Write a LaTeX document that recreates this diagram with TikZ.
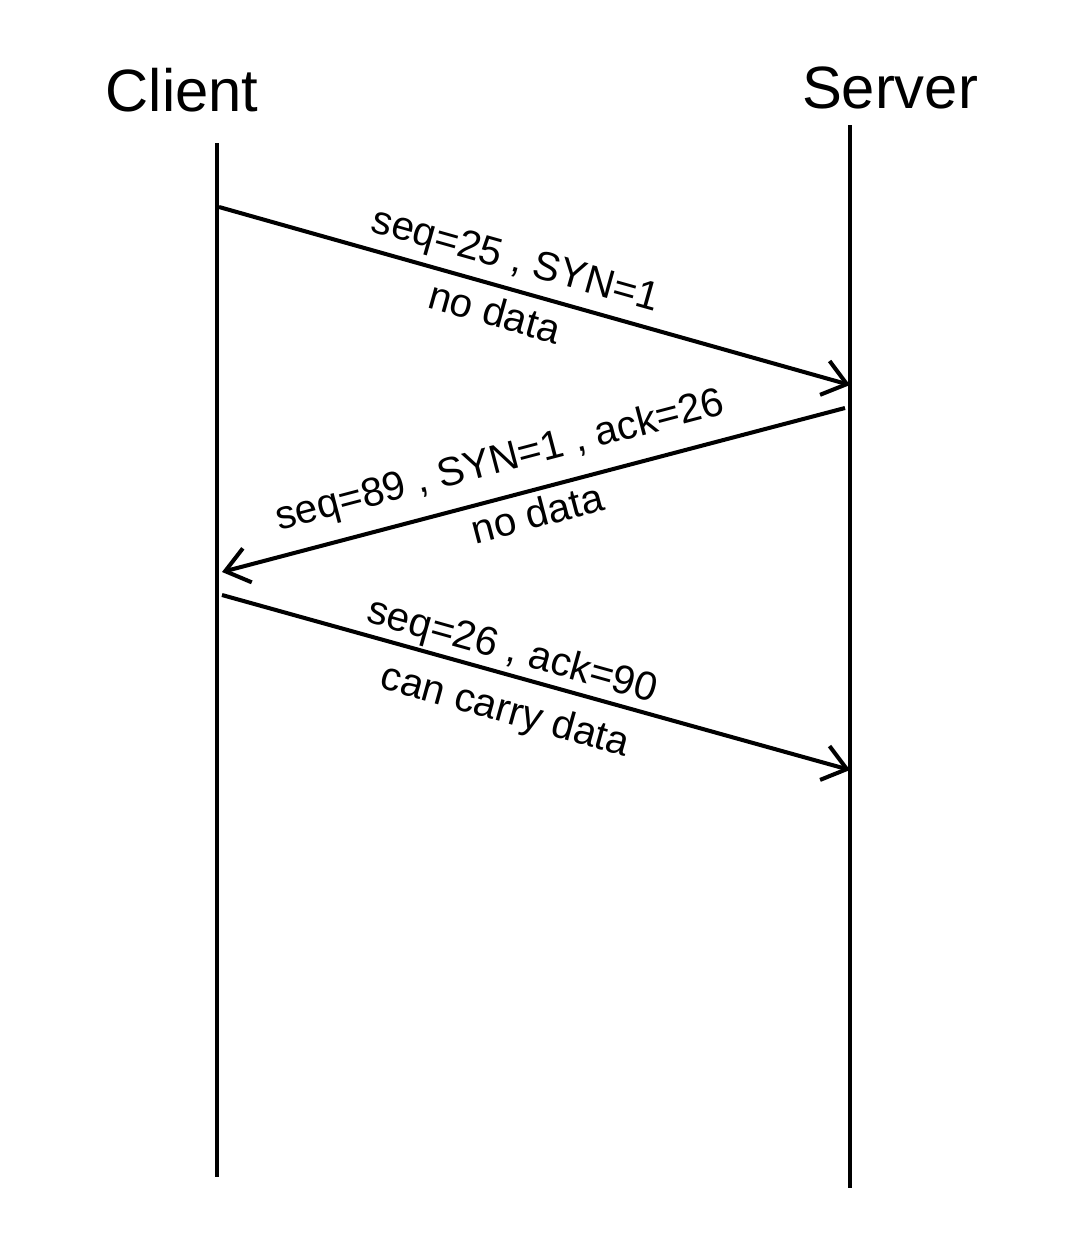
\documentclass[tikz,border=0pt]{standalone}
\usepackage{fontspec}
\setmainfont{Liberation Sans}
\usetikzlibrary{arrows.meta}
\begin{document}
\begin{tikzpicture}[x=0.02cm,y=-0.02cm,
  life/.style={line width=2.3pt},
  msg/.style={line width=2.3pt,-{Straight Barb[length=13pt,width=20pt,line width=2.3pt]}},
  title/.style={font=\fontsize{34}{40}\selectfont},
  lbl/.style={font=\fontsize{23}{27}\selectfont,inner sep=0pt}]
\useasboundingbox (0,0) rectangle (1073,1254);
\fill[white] (0,0) rectangle (1073,1254);
\node[title] (client) at (182,90) {Client};
\node[title] (server) at (890,88) {Server};
\coordinate (ct) at (217,143);
\coordinate (cb) at (217,1177);
\coordinate (st) at (850,125);
\coordinate (sb) at (850,1188);
\draw[life] (ct) -- (cb);
\draw[life] (st) -- (sb);
\coordinate (a1s) at (219,207);
\coordinate (a1e) at (850,385);
\coordinate (a2s) at (845,408);
\coordinate (a2e) at (222,572);
\coordinate (a3s) at (222,595);
\coordinate (a3e) at (850,770);
\draw[msg] (a1s) -- (a1e);
\draw[msg] (a2s) -- (a2e);
\draw[msg] (a3s) -- (a3e);
\node[lbl,rotate=-15.7] (l1a) at (515,262) {seq=25 , SYN=1};
\node[lbl,rotate=-15.7] (l1b) at (495,312) {no data};
\node[lbl,rotate=14.7] (l2a) at (500,462) {seq=89 , SYN=1 , ack=26};
\node[lbl,rotate=14.7] (l2b) at (537,513) {no data};
\node[lbl,rotate=-15.6] (l3a) at (512,652) {seq=26 , ack=90};
\node[lbl,rotate=-15.6] (l3b) at (505,712) {can carry data};
\end{tikzpicture}
\end{document}
